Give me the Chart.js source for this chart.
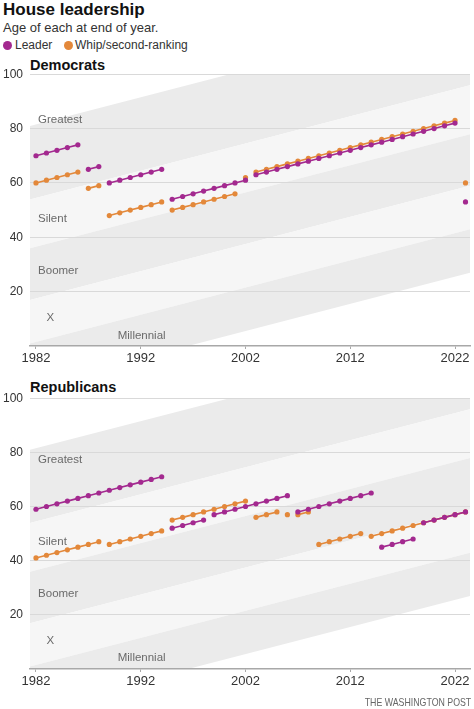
<!DOCTYPE html>
<html><head><meta charset="utf-8">
<script src="https://cdn.jsdelivr.net/npm/chart.js@4"></script>
<style>
html,body{margin:0;padding:0;background:#fff;}
body{width:474px;height:709px;position:relative;overflow:hidden;font-family:"Liberation Sans",Arial,sans-serif;color:#111;}
.abs{position:absolute;white-space:nowrap;}
#title{left:3px;top:0;font-size:17px;font-weight:bold;line-height:20px;color:#111;}
#sub{left:3px;top:20px;font-size:13px;line-height:16px;color:#333;}
.leg{top:38px;font-size:12px;line-height:14px;color:#333;}
.dot{position:absolute;width:9px;height:9px;border-radius:50%;top:40.5px;}
.ptitle{left:30px;font-size:14.5px;font-weight:bold;line-height:17px;color:#111;}
canvas{position:absolute;left:0;}
#credit{right:3px;top:695px;font-size:11px;line-height:14px;color:#666;transform:scaleX(0.8);transform-origin:right center;}
</style></head>
<body>
<div id="title" class="abs">House leadership</div>
<div id="sub" class="abs">Age of each at end of year.</div>
<div class="dot" style="left:2.5px;background:#a3298f"></div>
<div class="abs leg" style="left:15px">Leader</div>
<div class="dot" style="left:63.5px;background:#e3883a"></div>
<div class="abs leg" style="left:75px">Whip/second-ranking</div>
<div class="abs ptitle" style="top:56.7px">Democrats</div>
<div class="abs ptitle" style="top:378.7px">Republicans</div>
<canvas id="dem" width="474" height="320" style="top:60px"></canvas>
<canvas id="rep" width="474" height="319" style="top:384px"></canvas>
<div id="credit" class="abs">THE WASHINGTON POST</div>
<script>
// ---- data ----
const years = [];
for (let y = 1982; y <= 2023; y++) years.push(y);

const demLeader = [70,71,72,73,74, 65,66, 60,61,62,63,64,65, 54,55,56,57,58,59,60,61,
  63,64,65,66,67,68,69,70,71,72,73,74,75,76,77,78,79,80,81,82, 53];
const demLeaderBreaks = [1987,1989,1995,2003,2023];

const demWhip = [60,61,62,63,64, 58,59, 48,49,50,51,52,53, 50,51,52,53,54,55,56, 62,
  64,65,66,67,68,69,70,71,72,73,74,75,76,77,78,79,80,81,82,83, 60];
const demWhipBreaks = [1987,1989,1995,2002,2003,2023];

const repLeader = [59,60,61,62,63,64,65,66,67,68,69,70,71, 52,53,54,55,
  57,58,59,60,61,62,63,64, 58,59,60,61,62,63,64,65, 45,46,47,48, 54,55,56,57,58];
const repLeaderBreaks = [1995,1999,2007,2015,2019];

const repWhip = [41,42,43,44,45,46,47, 46,47,48,49,50,51, 55,56,57,58,59,60,61,62,
  56,57,58, 57, 57,58, 46,47,48,49,50, 49,50,51,52,53, 54,55,56,57,58];
const repWhipBreaks = [1989,1995,2003,2006,2007,2009,2014];

const xTicks = [1982,1992,2002,2012,2022];
const yTicks = [20,40,60,80,100];

const genNames = ['Greatest','Silent','Boomer','X','Millennial'];
const genStart = [1901,1928,1946,1965,1981,1997];

// label anchor (year, age) for generation names
const demGenLabelYear = [1982.2,1982.2,1982.2,1983,1989.8];
const demGenLabelAge  = [83.2,46.9,27.8,10.3,3.7];
const repGenLabelYear = [1982.2,1982.2,1982.2,1983,1989.8];
const repGenLabelAge  = [77.2,47.1,27.9,10.3,4.0];

// ---- styling ----
const PURPLE = '#a3298f', ORANGE = '#e3883a';
const FONT = '"Liberation Sans", Arial, sans-serif';
const GRAY_BAND = '#ebebeb', LIGHT_BAND = '#f6f6f6';

const bandPlugin = {
  id: 'bands',
  beforeDraw(chart) {
    const {ctx, chartArea: a, scales: {x, y}} = chart;
    ctx.save();
    ctx.beginPath(); ctx.rect(a.left, a.top, a.right - a.left, a.bottom - a.top); ctx.clip();
    const x0 = x.min, x1 = x.max;
    for (let i = 0; i < genNames.length; i++) {
      const bOld = genStart[i] - 0.5, bYoung = genStart[i + 1] - 0.5;
      ctx.beginPath();
      ctx.moveTo(x.getPixelForValue(x0), y.getPixelForValue(x0 - bOld));
      ctx.lineTo(x.getPixelForValue(x1), y.getPixelForValue(x1 - bOld));
      ctx.lineTo(x.getPixelForValue(x1), y.getPixelForValue(x1 - bYoung));
      ctx.lineTo(x.getPixelForValue(x0), y.getPixelForValue(x0 - bYoung));
      ctx.closePath();
      ctx.fillStyle = i % 2 === 0 ? GRAY_BAND : LIGHT_BAND;
      ctx.fill();
    }
    ctx.restore();
  },
  beforeDatasetsDraw(chart, args, opts) {
    const {ctx, scales: {x, y}} = chart;
    ctx.save();
    ctx.font = '11.5px ' + FONT;
    ctx.fillStyle = '#6a6a6a';
    ctx.textAlign = 'left';
    ctx.textBaseline = 'middle';
    genNames.forEach((n, i) => {
      ctx.fillText(n, x.getPixelForValue(opts.ly[i]), y.getPixelForValue(opts.la[i]));
    });
    ctx.restore();
  }
};

function ds(values, breaks, color, order) {
  return {
    data: years.map((yr, i) => ({x: yr, y: values[i]})),
    borderColor: color,
    backgroundColor: color,
    pointBackgroundColor: color,
    pointBorderWidth: 0,
    pointRadius: 2.6,
    borderWidth: 1.6,
    tension: 0,
    order: order,
    clip: false,
    segment: {
      borderColor: c => breaks.includes(years[c.p1DataIndex]) ? 'rgba(0,0,0,0)' : undefined
    }
  };
}

function makeChart(id, leader, lb, whip, wb, ly, la) {
  return new Chart(document.getElementById(id), {
    type: 'line',
    data: { datasets: [ds(leader, lb, PURPLE, 0), ds(whip, wb, ORANGE, 1)] },
    plugins: [bandPlugin],
    options: {
      responsive: false,
      animation: false,
      events: [],
      layout: { padding: { top: 13, right: 4, left: 0, bottom: 0 } },
      plugins: {
        legend: { display: false },
        tooltip: { enabled: false },
        bands: { ly: ly, la: la }
      },
      scales: {
        x: {
          type: 'linear', min: 1981.43, max: 2023.43,
          afterBuildTicks: s => { s.ticks = xTicks.map(v => ({value: v})); },
          afterFit: s => { s.height = 34; },
          grid: { drawOnChartArea: false, drawTicks: true, tickLength: 3, color: '#a8a8a8', lineWidth: 1 },
          border: { display: true, color: '#a8a8a8', width: 1.5 },
          ticks: { padding: 2, color: '#333', font: { family: FONT, size: 13 }, maxRotation: 0, autoSkip: false,
                   callback: v => String(v) }
        },
        y: {
          min: 0, max: 100,
          afterBuildTicks: s => { s.ticks = yTicks.map(v => ({value: v})); },
          afterFit: s => { s.width = 30; },
          grid: { color: '#d9d9d9', lineWidth: 1, drawTicks: false },
          border: { display: false },
          ticks: { padding: 7, color: '#333', font: { family: FONT, size: 12 }, callback: v => String(v) }
        }
      }
    }
  });
}

makeChart('dem', demLeader, demLeaderBreaks, demWhip, demWhipBreaks, demGenLabelYear, demGenLabelAge);
makeChart('rep', repLeader, repLeaderBreaks, repWhip, repWhipBreaks, repGenLabelYear, repGenLabelAge);
</script>
</body></html>
